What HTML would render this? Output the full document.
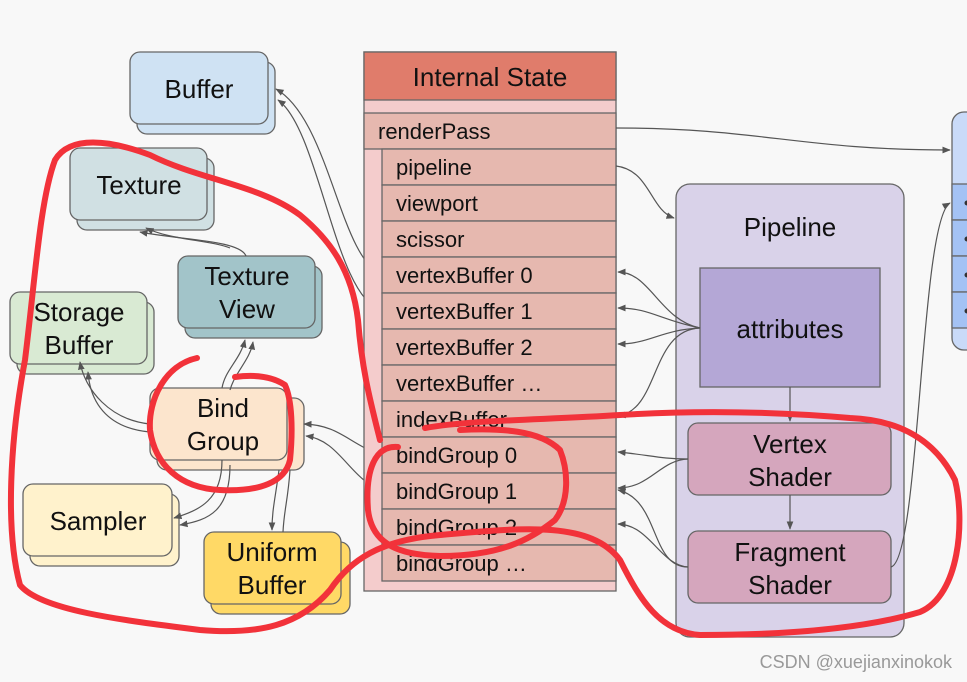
<!DOCTYPE html>
<html><head><meta charset="utf-8"><style>
html,body{margin:0;padding:0;background:#f8f8f8;}
svg{display:block;}
text{font-family:"Liberation Sans",sans-serif;fill:#111;}
</style></head><body>
<svg width="967" height="682" viewBox="0 0 967 682" xmlns="http://www.w3.org/2000/svg">
<defs>
<marker id="a" viewBox="0 0 10 10" refX="9" refY="5" markerWidth="7" markerHeight="7" orient="auto"><path d="M0,1 L10,5 L0,9 z" fill="#555"/></marker>
</defs>
<rect width="967" height="682" fill="#f8f8f8"/>

<g stroke="#666" stroke-width="1.3">
<rect x="137" y="62" width="138" height="72" rx="10" fill="#cfe2f3"/>
<rect x="130" y="52" width="138" height="72" rx="10" fill="#cfe2f3"/>
<rect x="77" y="158" width="137" height="72" rx="10" fill="#d0e0e3"/>
<rect x="70" y="148" width="137" height="72" rx="10" fill="#d0e0e3"/>
<rect x="185" y="266" width="137" height="72" rx="10" fill="#a2c4c9"/>
<rect x="178" y="256" width="137" height="72" rx="10" fill="#a2c4c9"/>
<rect x="17" y="302" width="137" height="72" rx="10" fill="#d9ead3"/>
<rect x="10" y="292" width="137" height="72" rx="10" fill="#d9ead3"/>
<rect x="157" y="398" width="147" height="72" rx="10" fill="#fce5cd"/>
<rect x="150" y="388" width="137" height="72" rx="10" fill="#fce5cd"/>
<rect x="30" y="494" width="149" height="72" rx="10" fill="#fff2cc"/>
<rect x="23" y="484" width="149" height="72" rx="10" fill="#fff2cc"/>
<rect x="211" y="542" width="139" height="72" rx="10" fill="#ffd966"/>
<rect x="204" y="532" width="137" height="72" rx="10" fill="#ffd966"/>
</g>
<g font-size="26" text-anchor="middle">
<text x="199" y="98">Buffer</text>
<text x="139" y="194">Texture</text>
<text x="247" y="285">Texture</text><text x="247" y="318">View</text>
<text x="79" y="321">Storage</text><text x="79" y="354">Buffer</text>
<text x="223" y="417">Bind</text><text x="223" y="450">Group</text>
<text x="98" y="530">Sampler</text>
<text x="272" y="561">Uniform</text><text x="272" y="594">Buffer</text>
</g>

<g fill="none" stroke="#555" stroke-width="1.2">
<path d="M382,274 C340,260 330,120 276,89" marker-end="url(#a)"/>
<path d="M382,310 C335,300 320,130 278,100" marker-end="url(#a)"/>
<path d="M246,256 C240,240 180,240 140,232" marker-end="url(#a)"/>
<path d="M230,248 C210,240 170,240 146,228" marker-end="url(#a)"/>
<path d="M222,388 C225,370 240,360 245,340" marker-end="url(#a)"/>
<path d="M230,390 C235,372 250,360 253,342" marker-end="url(#a)"/>
<path d="M150,424 C110,420 85,390 80,362" marker-end="url(#a)"/>
<path d="M150,432 C105,428 90,400 88,372" marker-end="url(#a)"/>
<path d="M382,455 C350,445 340,425 304,424" marker-end="url(#a)"/>
<path d="M382,490 C350,480 340,440 306,436" marker-end="url(#a)"/>
<path d="M222,460 C222,500 200,510 174,518" marker-end="url(#a)"/>
<path d="M230,465 C230,510 210,520 180,525" marker-end="url(#a)"/>
<path d="M279,470 C275,500 272,510 272,530" marker-end="url(#a)"/>
<path d="M290,470 C288,500 284,510 283,532"/>
</g>

<g stroke="#666" stroke-width="1.3">
<rect x="364" y="52" width="252" height="539" fill="#f4cccc"/>
<rect x="364" y="52" width="252" height="48" fill="#e07c6b"/>
<rect x="364" y="113" width="252" height="36" fill="#e6b8af"/>
<rect x="382" y="149" width="234" height="36" fill="#e6b8af"/>
<rect x="382" y="185" width="234" height="36" fill="#e6b8af"/>
<rect x="382" y="221" width="234" height="36" fill="#e6b8af"/>
<rect x="382" y="257" width="234" height="36" fill="#e6b8af"/>
<rect x="382" y="293" width="234" height="36" fill="#e6b8af"/>
<rect x="382" y="329" width="234" height="36" fill="#e6b8af"/>
<rect x="382" y="365" width="234" height="36" fill="#e6b8af"/>
<rect x="382" y="401" width="234" height="36" fill="#e6b8af"/>
<rect x="382" y="437" width="234" height="36" fill="#e6b8af"/>
<rect x="382" y="473" width="234" height="36" fill="#e6b8af"/>
<rect x="382" y="509" width="234" height="36" fill="#e6b8af"/>
<rect x="382" y="545" width="234" height="36" fill="#e6b8af"/>
</g>
<text x="490" y="86" font-size="26" text-anchor="middle">Internal State</text>
<g font-size="22">
<text x="378" y="139">renderPass</text>
<text x="396" y="175">pipeline</text>
<text x="396" y="211">viewport</text>
<text x="396" y="247">scissor</text>
<text x="396" y="283">vertexBuffer 0</text>
<text x="396" y="319">vertexBuffer 1</text>
<text x="396" y="355">vertexBuffer 2</text>
<text x="396" y="391">vertexBuffer …</text>
<text x="396" y="427">indexBuffer</text>
<text x="396" y="463">bindGroup 0</text>
<text x="396" y="499">bindGroup 1</text>
<text x="396" y="535">bindGroup 2</text>
<text x="396" y="571">bindGroup …</text>
</g>

<g stroke="#666" stroke-width="1.3">
<rect x="952" y="112" width="40" height="238" rx="12" fill="#c9daf8"/>
<rect x="952" y="184" width="40" height="36" fill="#a4c2f4"/>
<rect x="952" y="220" width="40" height="36" fill="#a4c2f4"/>
<rect x="952" y="256" width="40" height="36" fill="#a4c2f4"/>
<rect x="952" y="292" width="40" height="36" fill="#a4c2f4"/>
</g>
<g fill="#333"><circle cx="967" cy="203" r="2.5"/><circle cx="967" cy="239" r="2.5"/><circle cx="967" cy="275" r="2.5"/><circle cx="967" cy="311" r="2.5"/></g>

<g stroke="#666" stroke-width="1.3">
<rect x="676" y="184" width="228" height="453" rx="14" fill="#d9d2e9"/>
<rect x="700" y="268" width="180" height="119" fill="#b4a7d6"/>
<rect x="688" y="423" width="203" height="72" rx="10" fill="#d5a6bd"/>
<rect x="688" y="531" width="203" height="72" rx="10" fill="#d5a6bd"/>
</g>
<g font-size="26" text-anchor="middle">
<text x="790" y="236">Pipeline</text>
<text x="790" y="338">attributes</text>
<text x="790" y="453">Vertex</text><text x="790" y="486">Shader</text>
<text x="790" y="561">Fragment</text><text x="790" y="594">Shader</text>
</g>

<g fill="none" stroke="#555" stroke-width="1.2">
<path d="M616,128 C760,128 800,150 950,150" marker-end="url(#a)"/>
<path d="M616,166 C650,170 650,210 674,218" marker-end="url(#a)"/>
<path d="M790,387 L790,421" marker-end="url(#a)"/>
<path d="M790,495 L790,529" marker-end="url(#a)"/>
<path d="M700,328 C660,320 650,272 618,272" marker-end="url(#a)"/>
<path d="M700,328 C660,320 650,308 618,308" marker-end="url(#a)"/>
<path d="M700,328 C660,330 650,344 618,344" marker-end="url(#a)"/>
<path d="M700,328 C650,330 660,410 618,416" marker-end="url(#a)"/>
<path d="M688,459 C660,459 650,455 618,452" marker-end="url(#a)"/>
<path d="M688,459 C660,460 650,488 618,488" marker-end="url(#a)"/>
<path d="M688,567 C650,567 660,500 618,490" marker-end="url(#a)"/>
<path d="M688,567 C660,565 650,525 618,524" marker-end="url(#a)"/>
<path d="M891,567 C920,560 920,220 950,203" marker-end="url(#a)"/>
</g>

<g fill="none" stroke="#f2323a" stroke-width="6" stroke-linecap="round" stroke-linejoin="round">
<path d="M380,440 C370,400 362,370 358,320 C352,270 330,240 300,215 C260,185 200,180 150,155 C110,140 70,135 55,160 C40,200 35,280 25,360 C10,440 5,530 20,585 C40,610 120,620 200,630 C260,635 300,625 330,590 C350,560 380,540 440,535 C520,528 590,520 620,560 C640,600 660,632 700,635 C780,635 860,630 920,612 C960,595 965,520 955,480 C935,440 900,420 850,418 C780,412 700,410 620,415 C540,420 470,420 425,428"/>
<path d="M398,447 C375,445 365,470 368,510 C372,545 400,555 440,556 C500,556 530,540 555,520 C570,500 568,470 560,450 C540,430 500,428 460,430"/>
<path d="M197,358 C165,365 148,400 150,430 C155,465 180,488 220,490 C260,492 285,482 290,460 C293,430 292,400 285,385 C270,375 250,375 235,377"/>
</g>

<text x="952" y="668" font-size="18" text-anchor="end" style="fill:#999">CSDN @xuejianxinokok</text>
</svg>
</body></html>
